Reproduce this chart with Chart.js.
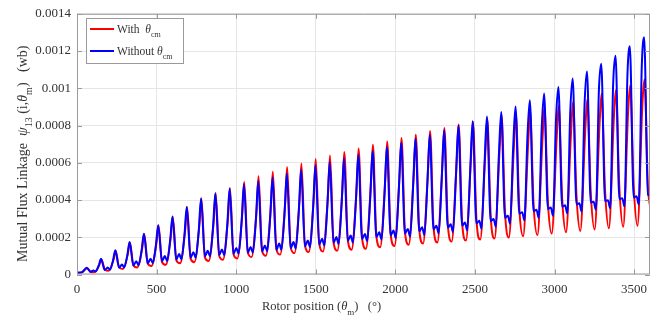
<!DOCTYPE html>
<html>
<head>
<meta charset="utf-8">
<script src="https://cdn.jsdelivr.net/npm/chart.js@4.4.1/dist/chart.umd.min.js"></script>
<style>
html, body { margin: 0; padding: 0; background: #fff; }
#wrap { width: 669px; height: 322px; }
</style>
</head>
<body>
<div id="wrap"><canvas id="fluxChart" width="669" height="322"></canvas></div>
<script>
// cycle layout (rotor angle, degrees)
const firstPeak = 61;
const period = 89.8;

// points before the first peak and after the last one
const startAngles = [0, 30];
const blueStart = [0.000010, 0.000012];
const redStart = [0.000008, 0.000010];
const tailAngles = [3587, 3600];
const blueTail = [0.000428, 0.000425];
const redTail = [0.000470, 0.000368];

// Without theta_cm (blue): one value per cycle
const bluePeak = [
	0.000036, 0.000084, 0.000130, 0.000174, 0.000219, 0.000265, 0.000311, 0.000362, 0.000408, 0.000435,
	0.000460, 0.000484, 0.000502, 0.000521, 0.000543, 0.000563, 0.000586, 0.000604, 0.000626, 0.000643,
	0.000664, 0.000685, 0.000707, 0.000729, 0.000751, 0.000775, 0.000800, 0.000823, 0.000848, 0.000873,
	0.000902, 0.000936, 0.000972, 0.001007, 0.001052, 0.001090, 0.001132, 0.001175, 0.001226, 0.001274
];
const blueDipA = [
	0.000014, 0.000024, 0.000036, 0.000048, 0.000060, 0.000071, 0.000081, 0.000090, 0.000098, 0.000105,
	0.000111, 0.000117, 0.000124, 0.000132, 0.000141, 0.000151, 0.000160, 0.000170, 0.000180, 0.000190,
	0.000200, 0.000210, 0.000220, 0.000232, 0.000242, 0.000252, 0.000262, 0.000274, 0.000286, 0.000304,
	0.000326, 0.000340, 0.000352, 0.000364, 0.000376, 0.000386, 0.000394, 0.000404, 0.000414
];
const blueBump = [
	0.000022, 0.000038, 0.000054, 0.000071, 0.000085, 0.000099, 0.000110, 0.000120, 0.000127, 0.000134,
	0.000142, 0.000148, 0.000156, 0.000166, 0.000174, 0.000183, 0.000192, 0.000201, 0.000209, 0.000218,
	0.000227, 0.000236, 0.000245, 0.000254, 0.000262, 0.000270, 0.000279, 0.000288, 0.000298, 0.000316,
	0.000334, 0.000348, 0.000360, 0.000372, 0.000383, 0.000391, 0.000399, 0.000410, 0.000420
];
const blueDipB = [
	0.000016, 0.000026, 0.000038, 0.000050, 0.000062, 0.000072, 0.000082, 0.000090, 0.000098, 0.000104,
	0.000112, 0.000118, 0.000125, 0.000133, 0.000140, 0.000148, 0.000156, 0.000164, 0.000172, 0.000180,
	0.000188, 0.000196, 0.000204, 0.000212, 0.000220, 0.000228, 0.000237, 0.000246, 0.000256, 0.000272,
	0.000290, 0.000304, 0.000316, 0.000328, 0.000338, 0.000348, 0.000356, 0.000366, 0.000376
];
const blueRise = [
	0.000047, 0.000073, 0.000100, 0.000126, 0.000153, 0.000180, 0.000208, 0.000233, 0.000250, 0.000265,
	0.000280, 0.000290, 0.000305, 0.000320, 0.000335, 0.000350, 0.000365, 0.000380, 0.000395, 0.000410,
	0.000430, 0.000450, 0.000470, 0.000490, 0.000505, 0.000530, 0.000565, 0.000600, 0.000640, 0.000680,
	0.000740, 0.000790, 0.000835, 0.000880, 0.000920, 0.000990, 0.001030, 0.001080, 0.001120
];

// With theta_cm (red): one value per cycle
const redPeak = [
	0.000034, 0.000080, 0.000127, 0.000172, 0.000217, 0.000263, 0.000310, 0.000362, 0.000410, 0.000438,
	0.000465, 0.000497, 0.000527, 0.000552, 0.000577, 0.000596, 0.000620, 0.000639, 0.000658, 0.000676,
	0.000697, 0.000714, 0.000733, 0.000751, 0.000771, 0.000787, 0.000805, 0.000820, 0.000837, 0.000855,
	0.000867, 0.000880, 0.000899, 0.000906, 0.000925, 0.000940, 0.000970, 0.000990, 0.001015, 0.001047
];
const redFall = [
	0.000016, 0.000027, 0.000039, 0.000049, 0.000059, 0.000067, 0.000077, 0.000085, 0.000092, 0.000101,
	0.000110, 0.000119, 0.000128, 0.000137, 0.000147, 0.000157, 0.000165, 0.000174, 0.000184, 0.000194,
	0.000205, 0.000216, 0.000228, 0.000240, 0.000252, 0.000266, 0.000280, 0.000296, 0.000312, 0.000332,
	0.000354, 0.000372, 0.000390, 0.000406, 0.000422, 0.000436, 0.000450, 0.000466, 0.000480
];
const redMin = [
	0.000012, 0.000020, 0.000030, 0.000038, 0.000046, 0.000052, 0.000060, 0.000066, 0.000072, 0.000079,
	0.000086, 0.000094, 0.000101, 0.000107, 0.000114, 0.000121, 0.000124, 0.000128, 0.000133, 0.000138,
	0.000146, 0.000153, 0.000160, 0.000166, 0.000172, 0.000177, 0.000182, 0.000188, 0.000193, 0.000199,
	0.000206, 0.000212, 0.000220, 0.000227, 0.000234, 0.000241, 0.000248, 0.000256, 0.000262
];
const redRise = [
	0.000053, 0.000084, 0.000115, 0.000145, 0.000176, 0.000207, 0.000241, 0.000272, 0.000292, 0.000311,
	0.000333, 0.000354, 0.000372, 0.000389, 0.000403, 0.000420, 0.000443, 0.000457, 0.000475, 0.000496,
	0.000515, 0.000536, 0.000556, 0.000577, 0.000596, 0.000617, 0.000635, 0.000655, 0.000676, 0.000693,
	0.000712, 0.000734, 0.000748, 0.000771, 0.000792, 0.000824, 0.000856, 0.000894, 0.000937
];

const xTickValues = [0, 500, 1000, 1500, 2000, 2500, 3000, 3500];
const xTickLabels = ['0', '500', '1000', '1500', '2000', '2500', '3000', '3500'];
const yTickValues = [0, 0.0002, 0.0004, 0.0006, 0.0008, 0.001, 0.0012, 0.0014];
const yTickLabels = ['0', '0.0002', '0.0004', '0.0006', '0.0008', '0.001', '0.0012', '0.0014'];

// where inside a cycle each stored value sits (degrees after the blue peak)
const blueOffsets = [24, 42, 56, 75];
const redOffsets = [2, 24, 48, 80];

const bluePoints = [];
const redPoints = [];
startAngles.forEach((a, i) => {
	bluePoints.push({ x: a, y: blueStart[i] });
	redPoints.push({ x: a, y: redStart[i] });
});
for (let k = 0; k < bluePeak.length; k++) {
	const p = firstPeak + k * period;
	bluePoints.push({ x: p, y: bluePeak[k] });
	redPoints.push({ x: p + redOffsets[0], y: redPeak[k] });
	if (k < blueBump.length) {
		bluePoints.push({ x: p + blueOffsets[0], y: blueDipA[k] });
		bluePoints.push({ x: p + blueOffsets[1], y: blueBump[k] });
		bluePoints.push({ x: p + blueOffsets[2], y: blueDipB[k] });
		bluePoints.push({ x: p + blueOffsets[3], y: blueRise[k] });
		redPoints.push({ x: p + redOffsets[1], y: redFall[k] });
		redPoints.push({ x: p + redOffsets[2], y: redMin[k] });
		redPoints.push({ x: p + redOffsets[3], y: redRise[k] });
	}
}
tailAngles.forEach((a, i) => {
	bluePoints.push({ x: a, y: blueTail[i] });
	redPoints.push({ x: a, y: redTail[i] });
});

const FONT = '"Liberation Serif", "Times New Roman", serif';
const TEXT = '#333333';
const AXIS = '#9a9a9a';

function drawRich(ctx, parts, x, y, size) {
	let cx = x;
	parts.forEach(pt => {
		const fs = pt.sub ? Math.round(size * 0.72) : size;
		ctx.font = (pt.it ? 'italic ' : '') + fs + 'px ' + FONT;
		ctx.fillText(pt.t, cx, y + (pt.sub ? size * 0.38 : 0));
		cx += ctx.measureText(pt.t).width;
	});
	return cx - x;
}

const framePlugin = {
	id: 'frame',
	afterDraw(chart) {
		const ctx = chart.ctx;
		const a = chart.chartArea;
		const xs = chart.scales.x;
		const ys = chart.scales.y;
		ctx.save();
		ctx.strokeStyle = AXIS;
		ctx.lineWidth = 1;
		ctx.beginPath();
		ctx.rect(a.left + 0.5, a.top + 0.5, a.right - a.left - 1, a.bottom - a.top - 1);
		xTickValues.forEach(v => {
			const px = Math.round(xs.getPixelForValue(v)) + 0.5;
			ctx.moveTo(px, a.bottom);
			ctx.lineTo(px, a.bottom - 5);
			ctx.moveTo(px, a.top);
			ctx.lineTo(px, a.top + 5);
		});
		yTickValues.forEach(v => {
			const py = Math.round(ys.getPixelForValue(v)) + 0.5;
			ctx.moveTo(a.left, py);
			ctx.lineTo(a.left + 5, py);
			ctx.moveTo(a.right, py);
			ctx.lineTo(a.right - 5, py);
		});
		ctx.stroke();

		// axis titles
		ctx.fillStyle = TEXT;
		ctx.textAlign = 'left';
		ctx.textBaseline = 'alphabetic';
		drawRich(ctx, [
			{ t: 'Rotor position (' },
			{ t: 'θ', it: true },
			{ t: 'm', sub: true },
			{ t: ')   (°)' }
		], 262, 310, 12.5);

		ctx.save();
		ctx.translate(27, 262);
		ctx.rotate(-Math.PI / 2);
		drawRich(ctx, [
			{ t: 'Mutual Flux Linkage  ' },
			{ t: 'ψ', it: true },
			{ t: '13', sub: true },
			{ t: ' (i,' },
			{ t: 'θ', it: true },
			{ t: 'm', sub: true },
			{ t: ')   (wb)' }
		], 0, 0, 14);
		ctx.restore();

		// legend
		ctx.fillStyle = '#ffffff';
		ctx.fillRect(86, 18, 97, 45);
		ctx.strokeStyle = AXIS;
		ctx.strokeRect(86.5, 18.5, 97, 45);
		const rows = [
			{ parts: [{ t: 'With  ' }, { t: 'θ', it: true }, { t: 'cm', sub: true }], color: chart.data.datasets[0].borderColor, y: 29 },
			{ parts: [{ t: 'Without ' }, { t: 'θ', it: true }, { t: 'cm', sub: true }], color: chart.data.datasets[1].borderColor, y: 51 }
		];
		rows.forEach(r => {
			ctx.strokeStyle = r.color;
			ctx.lineWidth = 2;
			ctx.beginPath();
			ctx.moveTo(90, r.y);
			ctx.lineTo(114, r.y);
			ctx.stroke();
			ctx.fillStyle = TEXT;
			drawRich(ctx, r.parts, 117, r.y + 4, 11.5);
		});
		ctx.restore();
	}
};

const ctx = document.getElementById('fluxChart').getContext('2d');
new Chart(ctx, {
	type: 'line',
	data: {
		datasets: [{
			label: 'With θcm',
			data: redPoints,
			borderColor: '#ff0000',
			borderWidth: 2,
			pointRadius: 0,
			fill: false,
			cubicInterpolationMode: 'monotone',
			order: 2
		}, {
			label: 'Without θcm',
			data: bluePoints,
			borderColor: '#0000ff',
			borderWidth: 2,
			pointRadius: 0,
			fill: false,
			cubicInterpolationMode: 'monotone',
			order: 1
		}]
	},
	options: {
		responsive: false,
		maintainAspectRatio: false,
		devicePixelRatio: 1,
		animation: false,
		layout: { padding: { left: 0, right: 19, top: 11, bottom: 0 } },
		plugins: {
			legend: { display: false },
			tooltip: { enabled: false }
		},
		scales: {
			x: {
				type: 'linear',
				min: 0,
				max: 3600,
				afterBuildTicks: s => { s.ticks = xTickValues.map(v => ({ value: v })); },
				afterFit: s => { s.height = 47.5; },
				grid: { color: '#e6e6e6', drawTicks: false },
				border: { display: false },
				ticks: {
					color: TEXT,
					font: { family: FONT, size: 13 },
					padding: 7,
					maxRotation: 0,
					callback: (v, i) => xTickLabels[i]
				}
			},
			y: {
				type: 'linear',
				min: 0,
				max: 0.0014,
				afterBuildTicks: s => { s.ticks = yTickValues.map(v => ({ value: v })); },
				afterFit: s => { s.width = 77; },
				grid: { color: '#e6e6e6', drawTicks: false },
				border: { display: false },
				ticks: {
					color: TEXT,
					font: { family: FONT, size: 13 },
					padding: 6,
					callback: (v, i) => yTickLabels[i]
				}
			}
		}
	},
	plugins: [framePlugin]
});
</script>
</body>
</html>
